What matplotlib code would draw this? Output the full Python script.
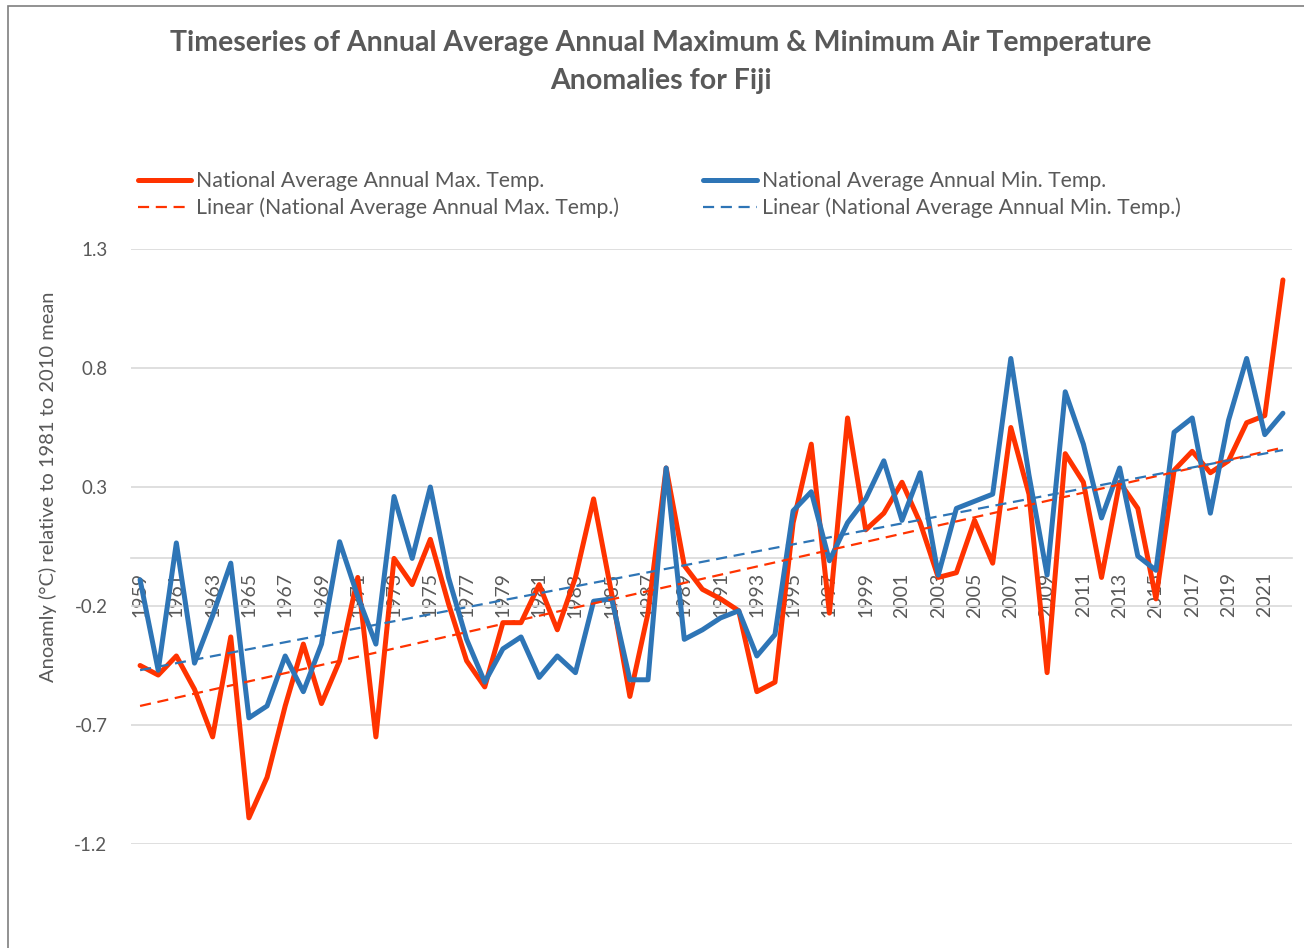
import numpy as np
import matplotlib
matplotlib.use('Agg')
import matplotlib.pyplot as plt
from matplotlib.patches import Rectangle

plt.rcParams['font.family'] = ['Lato', 'DejaVu Sans']

years = list(range(1959, 2023))

tmax = [-0.45, -0.49, -0.41, -0.55, -0.75, -0.33, -1.09, -0.92, -0.62, -0.36,
        -0.61, -0.43, -0.08, -0.75, 0.00, -0.11, 0.08, -0.19, -0.43, -0.54,
        -0.27, -0.27, -0.11, -0.30, -0.08, 0.25, -0.15, -0.58, -0.23, 0.38,
        -0.03, -0.13, -0.17, -0.22, -0.56, -0.52, 0.15, 0.48, -0.23, 0.59,
        0.12, 0.19, 0.32, 0.15, -0.08, -0.06, 0.16, -0.02, 0.55, 0.27,
        -0.48, 0.44, 0.32, -0.08, 0.32, 0.21, -0.17, 0.37, 0.45, 0.36,
        0.41, 0.57, 0.60, 1.17]

tmin = [-0.09, -0.47, 0.065, -0.44, -0.24, -0.02, -0.67, -0.62, -0.41, -0.56,
        -0.36, 0.07, -0.16, -0.36, 0.26, 0.00, 0.30, -0.08, -0.34, -0.52,
        -0.38, -0.33, -0.50, -0.41, -0.48, -0.18, -0.17, -0.51, -0.51, 0.38,
        -0.34, -0.30, -0.25, -0.22, -0.41, -0.32, 0.20, 0.28, -0.01, 0.15,
        0.25, 0.41, 0.16, 0.36, -0.07, 0.21, 0.24, 0.27, 0.84, 0.35,
        -0.07, 0.70, 0.48, 0.17, 0.38, 0.01, -0.05, 0.53, 0.59, 0.19,
        0.58, 0.84, 0.52, 0.61]

yticks = [1.3, 0.8, 0.3, -0.2, -0.7, -1.2]

label_max = 'National Average Annual Max. Temp.'
label_min = 'National Average Annual Min. Temp.'

red = '#FF3300'
blue = '#2E75B6'
grey = '#595959'
gridc = '#D9D9D9'

x = np.arange(len(years))
fit_max = np.polyfit(x, tmax, 1)
fit_min = np.polyfit(x, tmin, 1)

fig = plt.figure(figsize=(13.04, 9.48), dpi=100)
ax = fig.add_axes([131 / 1304, 1 - 844 / 948, 1161 / 1304, 595 / 948])

l1, = ax.plot(x, tmax, color=red, lw=3.6, solid_capstyle='round', solid_joinstyle='round', zorder=3)
l2, = ax.plot(x, tmin, color=blue, lw=3.6, solid_capstyle='round', solid_joinstyle='round', zorder=3)
t1, = ax.plot(x, np.polyval(fit_max, x), color=red, lw=1.6, dashes=(5, 3), zorder=4)
t2, = ax.plot(x, np.polyval(fit_min, x), color=blue, lw=1.6, dashes=(5, 3), zorder=4)

for s in ['top', 'right', 'left']:
    ax.spines[s].set_visible(False)
# horizontal axis crosses at zero, as in the spreadsheet chart
ax.spines['bottom'].set_position(('data', 0))
ax.spines['bottom'].set_color(gridc)
ax.spines['bottom'].set_linewidth(1.2)
ax.spines['bottom'].set_zorder(1)

ax.set_xlim(-0.5, len(years) - 0.5)
ax.set_ylim(-1.2, 1.3)
ax.set_yticks(yticks)
ax.set_yticklabels([str(v) for v in yticks])
ax.yaxis.grid(True, color=gridc, lw=1.2)
ax.set_axisbelow(True)

ax.set_xticks(x[::2])
ax.set_xticklabels([str(y) for y in years[::2]])

ax.tick_params(axis='x', length=0, pad=10, labelsize=14, labelcolor=grey, labelrotation=90)
ax.tick_params(axis='y', length=0, pad=17, labelsize=13.5, labelcolor=grey)

ax.set_ylabel('Anoamly (°C) relative to 1981 to 2010 mean', fontsize=14.5, color=grey)
ax.yaxis.set_label_coords(-0.064, 0.60)

fig.text(661 / 1304, 1 - 30 / 948,
         'Timeseries of Annual Average Annual Maximum & Minimum Air Temperature\nAnomalies for Fiji',
         ha='center', va='top', fontsize=20.5, fontweight='bold', color=grey, linespacing=1.55)

leg = fig.legend([l1, t1, l2, t2],
                 [label_max, 'Linear (' + label_max + ')', label_min, 'Linear (' + label_min + ')'],
                 loc='upper left', bbox_to_anchor=(138 / 1304, 1 - 171 / 948),
                 ncol=2, frameon=False, fontsize=15.3, handlelength=2.5, handletextpad=0.25,
                 labelspacing=0.32, columnspacing=3.95, borderaxespad=0, borderpad=0)
for txt in leg.get_texts():
    txt.set_color(grey)

fig.patches.append(Rectangle((8 / 1304, -0.05), 1.2, 1.05 - 6 / 948, transform=fig.transFigure,
                             fill=False, edgecolor='#7F7F7F', lw=1.2, figure=fig))

fig.savefig('out.png', dpi=100, facecolor='white')
